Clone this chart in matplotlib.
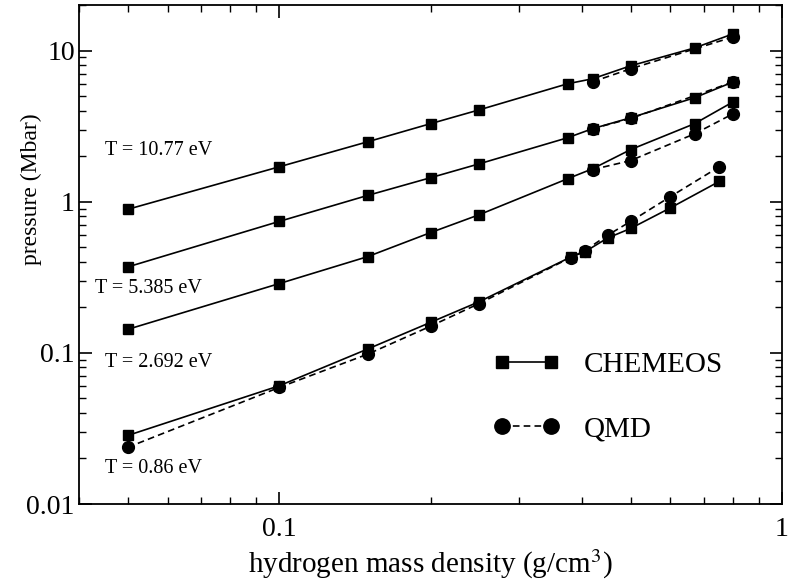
import numpy as np
import matplotlib.pyplot as plt
from matplotlib.ticker import NullFormatter, LogLocator

plt.rcParams['font.family'] = 'serif'
plt.rcParams['font.serif'] = ['Liberation Serif', 'DejaVu Serif']
plt.rcParams['mathtext.fontset'] = 'stix'

# CHEMEOS (squares, solid)
rho_chem_hot = np.array([0.05, 0.1, 0.15, 0.2, 0.25, 0.375, 0.42, 0.5, 0.67, 0.8])
p_chem_1077 = np.array([0.89, 1.70, 2.49, 3.28, 4.05, 6.03, 6.50, 7.92, 10.4, 12.9])
p_chem_5385 = np.array([0.37, 0.74, 1.10, 1.44, 1.78, 2.65, 3.04, 3.59, 4.87, 6.2])
p_chem_2692 = np.array([0.143, 0.287, 0.433, 0.624, 0.82, 1.42, 1.65, 2.21, 3.28, 4.58])

rho_chem_cold = np.array([0.05, 0.1, 0.15, 0.2, 0.25, 0.38, 0.405, 0.45, 0.5, 0.6, 0.75])
p_chem_086 = np.array([0.0284, 0.0605, 0.106, 0.159, 0.218, 0.43, 0.465, 0.575, 0.665, 0.91, 1.36])

# QMD (circles, dashed)
rho_qmd_hot = np.array([0.42, 0.5, 0.8])
p_qmd_1077 = np.array([6.21, 7.57, 12.3])
p_qmd_5385 = np.array([3.04, 3.55, 6.2])
rho_qmd_2692 = np.array([0.42, 0.5, 0.67, 0.8])
p_qmd_2692 = np.array([1.63, 1.87, 2.81, 3.82])
rho_qmd_cold = np.array([0.05, 0.1, 0.15, 0.2, 0.25, 0.38, 0.405, 0.45, 0.5, 0.6, 0.75])
p_qmd_086 = np.array([0.0237, 0.059, 0.098, 0.150, 0.212, 0.427, 0.474, 0.60, 0.74, 1.08, 1.70])

temp_labels = ['T = 10.77 eV', 'T = 5.385 eV', 'T = 2.692 eV', 'T = 0.86 eV']
label_pos = [(0.045, 2.17), (0.043, 0.266), (0.045, 0.0863), (0.045, 0.0172)]

xticks = [0.1, 1]
xticklabels = ['0.1', '1']
yticks = [0.01, 0.1, 1, 10]
yticklabels = ['0.01', '0.1', '1', '10']

fig = plt.figure(figsize=(7.93, 5.87), dpi=100)
ax = fig.add_axes([79/793, 1 - 504/587, 703/793, 499/587])

chem_sets = [(rho_chem_hot, p_chem_1077), (rho_chem_hot, p_chem_5385),
             (rho_chem_hot, p_chem_2692), (rho_chem_cold, p_chem_086)]
qmd_sets = [(rho_qmd_hot, p_qmd_1077), (rho_qmd_hot, p_qmd_5385),
            (rho_qmd_2692, p_qmd_2692), (rho_qmd_cold, p_qmd_086)]

for i, (x, y) in enumerate(chem_sets):
    ax.plot(x, y, '-', color='black', lw=1.2, marker='s', ms=7,
            label='CHEMEOS' if i == 0 else None)
for i, (x, y) in enumerate(qmd_sets):
    ax.plot(x, y, '--', color='black', lw=1.2, marker='o', ms=8.5,
            dashes=(4, 2.5), label='QMD' if i == 0 else None)

for txt, (tx, ty) in zip(temp_labels, label_pos):
    ax.text(tx, ty, txt, fontsize=14.5, ha='left', va='center')

ax.set_xscale('log')
ax.set_yscale('log')
ax.set_xlim(0.04, 1)
ax.set_ylim(0.01, 20)
ax.set_xticks(xticks)
ax.set_xticklabels(xticklabels)
ax.set_yticks(yticks)
ax.set_yticklabels(yticklabels)
ax.xaxis.set_minor_locator(LogLocator(base=10, subs=np.arange(2, 10)))
ax.yaxis.set_minor_locator(LogLocator(base=10, subs=np.arange(2, 10)))
ax.xaxis.set_minor_formatter(NullFormatter())
ax.yaxis.set_minor_formatter(NullFormatter())
ax.tick_params(which='both', direction='in', top=True, right=True, labelsize=20)
ax.tick_params(which='major', length=9, width=1.2)
ax.tick_params(which='minor', length=5, width=1)
ax.tick_params(axis='x', pad=9)
ax.tick_params(axis='y', pad=3)
for s in ax.spines.values():
    s.set_linewidth(1.3)

ax.set_xlabel('hydrogen mass density (g/cm$^3$)', fontsize=21)
ax.set_ylabel('pressure (Mbar)', fontsize=17)
ax.xaxis.set_label_coords(0.5, -0.088)
ax.yaxis.set_label_coords(-0.053, 0.63)

ax.legend(loc='upper left', bbox_to_anchor=(0.589, 0.305), frameon=False,
          fontsize=21, numpoints=2, handlelength=2.3, handletextpad=0.8,
          labelspacing=1.3, borderpad=0, borderaxespad=0, markerscale=1.3)

plt.savefig('out.png', dpi=100)
